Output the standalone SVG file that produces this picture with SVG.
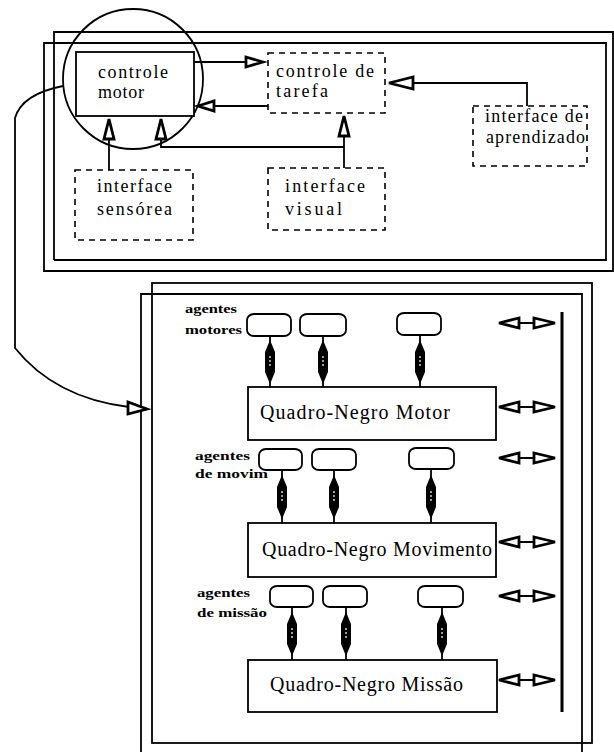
<svg xmlns="http://www.w3.org/2000/svg" width="614" height="752" viewBox="0 0 614 752">
<style>
.ln{fill:none;stroke:#000;stroke-width:1.8}
.box{fill:#fff;stroke:#000;stroke-width:1.8}
.dash{fill:#fff;stroke:#000;stroke-width:1.6;stroke-dasharray:6,5}
.ah{fill:#fff;stroke:#000;stroke-width:2.8;stroke-linejoin:miter}
.t{font-family:"Liberation Serif","Times New Roman",serif;fill:#000}
.ts{font-size:18px}
.tb{font-size:20px}
.tl{font-size:13px;font-weight:bold}
.ov{fill:#fff;stroke:#000;stroke-width:1.8}
</style>
<defs>
<g id="loz">
<path d="M0,-22 L5,-10 L5,10 L0,22 L-5,10 L-5,-10 Z" fill="#000"/>
<line x1="0" y1="-6" x2="0" y2="6" stroke="#fff" stroke-width="1.2" stroke-dasharray="2,2"/>
</g>
<g id="bi">
<line x1="500" y1="0" x2="555" y2="0" stroke="#000" stroke-width="1.8"/>
<polygon class="ah" points="499,0 519,-5 519,5"/>
<polygon class="ah" points="555,0 534,-5 534,5"/>
</g>
</defs>
<rect width="614" height="752" fill="#fff"/>

<g id="top-panel" class="ln">
<path d="M54,260 V32 H613 V272"/>
<path d="M44,272 V43 H606 V260 H54"/>
<path d="M44,271 H613"/>
</g>

<g id="bottom-panel" class="ln">
<rect x="152" y="283" width="440" height="460"/>
<path d="M141,752 V294 H582 V752"/>
<line x1="562" y1="312" x2="562" y2="712" stroke-width="3"/>
</g>

<g id="circle-highlight">
<circle cx="133" cy="79" r="70" class="ln" stroke-width="1.5"/>
</g>

<g id="connectors">
<path class="ln" d="M194,62 H246"/>
<polygon class="ah" points="263,62 246,57 246,67"/>
<path class="ln" d="M268,106 H214"/>
<polygon class="ah" points="198,106 214,101 214,111"/>
<path class="ln" d="M527,106 V83 H413"/>
<polygon class="ah" points="389,83 413,77 413,89"/>
<path class="ln" d="M109,170 V139"/>
<polygon class="ah" points="109,119 104,139 114,139"/>
<path class="ln" d="M161,139 V147 H344"/>
<polygon class="ah" points="161,119 156,139 166,139"/>
<path class="ln" d="M344,168 V136"/>
<polygon class="ah" points="344,116 339,136 349,136"/>
<path class="ln" d="M63,86 Q22,94 15,118 V348 Q55,398 129,407"/>
<polygon class="ah" points="147,409 128,402 128,414"/>

<g class="ln">
<line x1="270" y1="336" x2="270" y2="387"/>
<line x1="323" y1="336" x2="323" y2="387"/>
<line x1="420" y1="335" x2="420" y2="387"/>
<line x1="282" y1="470" x2="282" y2="523"/>
<line x1="334" y1="470" x2="334" y2="523"/>
<line x1="431" y1="469" x2="431" y2="523"/>
<line x1="292" y1="607" x2="292" y2="660"/>
<line x1="346" y1="607" x2="346" y2="660"/>
<line x1="442" y1="607" x2="442" y2="660"/>
</g>
<use href="#loz" x="270" y="362"/>
<use href="#loz" x="323" y="362"/>
<use href="#loz" x="420" y="362"/>
<use href="#loz" x="282" y="497"/>
<use href="#loz" x="334" y="497"/>
<use href="#loz" x="431" y="497"/>
<use href="#loz" x="292" y="634"/>
<use href="#loz" x="346" y="634"/>
<use href="#loz" x="442" y="634"/>

<use href="#bi" y="323"/>
<use href="#bi" y="407"/>
<use href="#bi" y="458"/>
<use href="#bi" y="542"/>
<use href="#bi" y="596"/>
<use href="#bi" y="680"/>
</g>

<g id="controle-motor">
<rect class="box" x="76" y="52" width="118" height="64"/>
<text class="t ts" x="98" y="78" textLength="70" lengthAdjust="spacing">controle</text>
<text class="t ts" x="98" y="98" textLength="46" lengthAdjust="spacing">motor</text>
</g>

<g id="controle-tarefa">
<rect class="dash" x="268" y="53" width="117" height="60"/>
<text class="t ts" x="276" y="77" textLength="98" lengthAdjust="spacing">controle de</text>
<text class="t ts" x="276" y="97" textLength="52" lengthAdjust="spacing">tarefa</text>
</g>

<g id="interface-aprendizado">
<rect class="dash" x="473" y="106" width="114" height="60"/>
<text class="t ts" x="485" y="122" textLength="98" lengthAdjust="spacing">interface de</text>
<text class="t ts" x="486" y="143" textLength="99" lengthAdjust="spacing">aprendizado</text>
</g>

<g id="interface-sensorea">
<rect class="dash" x="75" y="170" width="118" height="70"/>
<text class="t ts" x="97" y="192" textLength="75" lengthAdjust="spacing">interface</text>
<text class="t ts" x="97" y="215" textLength="75" lengthAdjust="spacing">sensórea</text>
</g>

<g id="interface-visual">
<rect class="dash" x="268" y="168" width="117" height="62"/>
<text class="t ts" x="285" y="192" textLength="80" lengthAdjust="spacing">interface</text>
<text class="t ts" x="285" y="215" textLength="57" lengthAdjust="spacing">visual</text>
</g>

<g id="agentes-motores">
<text class="t tl" x="185" y="313" textLength="52" lengthAdjust="spacingAndGlyphs">agentes</text>
<text class="t tl" x="185" y="334" textLength="57" lengthAdjust="spacingAndGlyphs">motores</text>
<rect class="ov" x="247" y="314" width="44" height="22" rx="7" ry="6"/>
<rect class="ov" x="300" y="314" width="46" height="22" rx="7" ry="6"/>
<rect class="ov" x="397" y="313" width="44" height="22" rx="7" ry="6"/>
</g>

<g id="quadro-negro-motor">
<rect class="box" x="248" y="387" width="248" height="53"/>
<text class="t tb" x="260" y="419" textLength="190" lengthAdjust="spacing">Quadro-Negro Motor</text>
</g>

<g id="agentes-movimento">
<text class="t tl" x="195" y="460" textLength="55" lengthAdjust="spacingAndGlyphs">agentes</text>
<text class="t tl" x="195" y="478" textLength="73" lengthAdjust="spacingAndGlyphs">de movim</text>
<rect class="ov" x="259" y="449" width="43" height="21" rx="7" ry="6"/>
<rect class="ov" x="312" y="449" width="44" height="21" rx="7" ry="6"/>
<rect class="ov" x="409" y="448" width="45" height="21" rx="7" ry="6"/>
</g>

<g id="quadro-negro-movimento">
<rect class="box" x="248" y="523" width="248" height="54"/>
<text class="t tb" x="262" y="556" textLength="230" lengthAdjust="spacing">Quadro-Negro Movimento</text>
</g>

<g id="agentes-missao">
<text class="t tl" x="197" y="597" textLength="53" lengthAdjust="spacingAndGlyphs">agentes</text>
<text class="t tl" x="197" y="617" textLength="70" lengthAdjust="spacingAndGlyphs">de missão</text>
<rect class="ov" x="270" y="586" width="43" height="21" rx="7" ry="6"/>
<rect class="ov" x="323" y="586" width="44" height="21" rx="7" ry="6"/>
<rect class="ov" x="418" y="586" width="45" height="21" rx="7" ry="6"/>
</g>

<g id="quadro-negro-missao">
<rect class="box" x="248" y="660" width="249" height="52"/>
<text class="t tb" x="270" y="691" textLength="193" lengthAdjust="spacing">Quadro-Negro Missão</text>
</g>
</svg>
